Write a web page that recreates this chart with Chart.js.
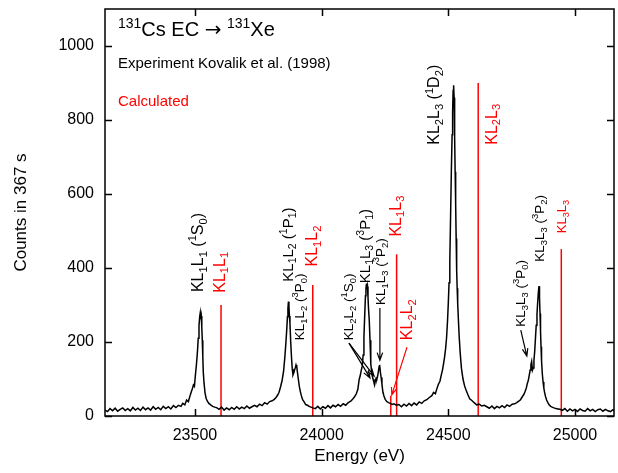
<!DOCTYPE html>
<html>
<head>
<meta charset="utf-8">
<script src="https://cdn.jsdelivr.net/npm/chart.js@4.4.0/dist/chart.umd.min.js"></script>
<style>
body { margin: 0; background: #fff; }
</style>
</head>
<body>
<canvas id="chart" width="618" height="473"></canvas>
<script>
// measured KLL spectrum (energy in eV, counts in 367 s)
const energy = [
  23145,23155,23165,23175,23185,23195,23205,23215,23225,23235,23245,23255,23265,23275,23285,23295,23305,23315,23325,23335,23345,23355,23365,23375,23385,23395,23405,23415,23425,23435,
  23445,23452,23460,23467,23474,23480,23486,23490,23494,23498,23502,23506,23510,23513,23516,23519,23521,23523,23525,23527,23529,23531,23533,23536,23540,23544,23549,23555,23562,23570,23578,23587,
  23595,23605,23615,23625,23635,23645,23655,23665,23675,23685,23695,23705,23715,
  23725,23735,23745,23755,23765,23775,23785,23795,23805,23813,23820,23826,23832,23838,23844,23850,23855,23859,23862,23865,23867,23869,23871,23873,23875,23878,23881,23884,23887,23890,23893,23896,23899,23902,23905,23908,23912,23916,23920,23925,23931,23937,23944,23951,23958,23965,
  23975,23985,23995,24005,24015,24025,24035,24045,24055,24065,24075,24085,24095,
  24105,24115,24123,24130,24137,24143,24148,24152,24156,24160,24164,24167,24170,24173,24175,24177,24179,24181,24183,24185,24188,24191,24194,24197,24200,24203,24206,24209,24212,24215,24218,24221,24224,24227,24229,24232,24235,24238,24242,24246,24251,24257,24264,24271,24278,24286,24295,
  24305,24315,24325,24335,24345,24355,24365,24375,24385,24395,24405,24415,24425,
  24435,24442,24449,24455,24461,24467,24472,24477,24481,24485,24489,24493,24497,24500,24503,24506,24509,24512,24515,24517,24519,24521,24523,24525,24527,24529,24531,24533,24535,24537,24540,24543,24547,24552,24558,24564,24570,24577,24585,24593,24602,24612,24622,24632,24642,24652,
  24662,24672,24682,24692,24702,24712,24722,24732,24742,24752,24762,
  24770,24778,24785,24792,24798,24803,24808,24812,24816,24820,24823,24826,24829,24832,24835,24838,24841,24844,24847,24850,24853,24856,24858,24860,24862,24864,24866,24868,24871,24874,24877,24880,24884,24888,24893,24898,24904,24910,24917,24925,24933,24941,
  24950,24960,24970,24980,24990,25000,25010,25020,25030,25040,25050,25060,25070,25080,25090,25100,25110,25120,25130,25140,25150,25155
];
const counts = [
  16,12,20,14,21,13,18,22,15,20,14,23,16,21,15,24,17,22,16,25,18,23,17,26,20,25,19,28,23,29,
  26,34,30,43,39,53,66,74,84,80,112,140,175,210,245,270,279,262,270,240,205,160,118,88,62,48,40,34,30,26,24,22,
  18,24,16,22,17,23,18,25,19,24,20,27,21,
  25,29,25,32,28,36,32,39,41,45,50,56,64,79,96,122,160,198,230,268,290,309,296,270,251,200,160,128,111,116,124,130,138,132,116,100,80,66,55,44,38,31,29,26,24,22,
  20,26,19,25,21,28,22,29,25,31,26,33,29,
  36,40,46,52,60,72,98,108,122,134,165,214,270,325,345,358,342,350,322,292,259,205,142,122,108,100,92,84,95,102,100,108,120,134,138,118,104,86,64,54,45,39,36,34,31,33,29,
  31,25,32,27,34,28,35,30,38,34,41,44,50,
  55,64,60,74,86,94,110,124,140,158,180,210,258,305,360,420,540,660,760,820,880,894,860,754,660,575,480,394,345,305,258,214,170,128,100,82,70,58,46,42,36,30,32,27,29,25,
  21,27,20,26,22,28,23,30,26,32,33,
  36,40,44,52,58,66,76,88,97,112,124,138,147,124,130,150,175,210,245,275,310,338,351,320,277,230,187,150,115,92,76,64,52,43,36,30,26,24,22,20,19,18,
  15,20,13,19,14,18,12,19,15,13,20,14,18,12,17,19,13,18,14,12,17,14
];

// calculated line positions and intensities
const calcNames = ['KL_1L_1', 'KL_1L_2', 'KL_1L_3', 'KL_2L_2', 'KL_2L_3', 'KL_3L_3'];
const calcEnergy = [23603, 23965, 24296, 24273, 24618, 24946];
const calcIntensity = [300, 354, 437, 55, 900, 451];

const xTicks = [23500, 24000, 24500, 25000];
const yTicks = [0, 200, 400, 600, 800, 1000];

const FONT = '"Liberation Sans", Arial, Helvetica, sans-serif';

// vertical labels: text, energy at the text baseline, counts where the text starts, size, colour
const peakLabels = [
  ['KL_1L_1 (^1S_0)', 23532, 335, 16, '#000'],
  ['KL_1L_2 (^1P_1)', 23887, 363, 15, '#000'],
  ['KL_1L_2 (^3P_0)', 23930, 205, 13.5, '#000'],
  ['KL_2L_2 (^1S_0)', 24124, 205, 13.5, '#000'],
  ['KL_1L_3 (^3P_1)', 24191, 359, 15, '#000'],
  ['KL_1L_3 (^3P_2)', 24250, 300, 13.5, '#000'],
  ['KL_2L_3 (^1D_2)', 24465, 733, 16, '#000'],
  ['KL_3L_3 (^3P_0)', 24803, 241, 13.5, '#000'],
  ['KL_3L_3 (^3P_2)', 24876, 417, 13.5, '#000'],
  [calcNames[0], 23618, 333, 16, '#ff0000'],
  [calcNames[1], 23982, 404, 16, '#ff0000'],
  [calcNames[2], 24313, 485, 16, '#ff0000'],
  [calcNames[3], 24357, 205, 16, '#ff0000'],
  [calcNames[4], 24692, 733, 16, '#ff0000'],
  [calcNames[5], 24965, 494, 13, '#ff0000']
];

// pointer arrows: from (energy, counts) to (energy, counts)
const arrows = [
  [24108, 197, 24191, 103, '#000'],
  [24108, 197, 24207, 108, '#000'],
  [24230, 292, 24230, 151, '#000'],
  [24786, 232, 24810, 162, '#000'],
  [24337, 186, 24277, 57, '#ff0000']
];

// split "KL_1L_1 (^1S_0)" style strings into normal / sub / super pieces
function parseRich(str) {
  const parts = [];
  for (let i = 0; i < str.length; i++) {
    const ch = str[i];
    if (ch === '_' || ch === '^') {
      let t;
      if (str[i + 1] === '{') {
        const end = str.indexOf('}', i);
        t = str.slice(i + 2, end);
        i = end;
      } else {
        t = str[i + 1];
        i++;
      }
      parts.push({ t: t, k: ch });
    } else {
      parts.push({ t: ch, k: '' });
    }
  }
  return parts;
}

function drawRich(ctx, str, size) {
  let x = 0;
  parseRich(str).forEach(p => {
    const fs = p.k ? size * 0.7 : size;
    const dy = p.k === '_' ? size * 0.22 : (p.k === '^' ? -size * 0.42 : 0);
    // the arrow glyph comes from DejaVu, which draws it full width
    const fam = p.t === '\u2192' ? '"DejaVu Sans", sans-serif' : FONT;
    ctx.font = fs + 'px ' + fam;
    ctx.fillText(p.t, x, dy);
    x += ctx.measureText(p.t).width;
  });
}

function arrow(ctx, x0, y0, x1, y1) {
  const ang = Math.atan2(y1 - y0, x1 - x0);
  const h = 8;
  ctx.beginPath();
  ctx.moveTo(x0, y0);
  ctx.lineTo(x1, y1);
  ctx.moveTo(x1 - h * Math.cos(ang - 0.35), y1 - h * Math.sin(ang - 0.35));
  ctx.lineTo(x1, y1);
  ctx.lineTo(x1 - h * Math.cos(ang + 0.35), y1 - h * Math.sin(ang + 0.35));
  ctx.stroke();
}

const decorations = {
  id: 'decorations',
  afterDraw(chart) {
    const { ctx, chartArea: a, scales: { x, y } } = chart;
    ctx.save();

    // frame with inward ticks on all four sides
    ctx.strokeStyle = '#000';
    ctx.lineWidth = 1.5;
    ctx.strokeRect(a.left, a.top, a.right - a.left, a.bottom - a.top);
    ctx.beginPath();
    xTicks.forEach(v => {
      const px = Math.round(x.getPixelForValue(v)) + 0.5;
      ctx.moveTo(px, a.bottom); ctx.lineTo(px, a.bottom - 7);
      ctx.moveTo(px, a.top); ctx.lineTo(px, a.top + 7);
    });
    yTicks.forEach(v => {
      const py = Math.round(y.getPixelForValue(v)) + 0.5;
      ctx.moveTo(a.left, py); ctx.lineTo(a.left + 7, py);
      ctx.moveTo(a.right, py); ctx.lineTo(a.right - 7, py);
    });
    ctx.stroke();

    // vertical peak labels
    ctx.textBaseline = 'alphabetic';
    ctx.textAlign = 'left';
    peakLabels.forEach(([txt, e, c, size, col]) => {
      ctx.save();
      ctx.fillStyle = col;
      ctx.translate(x.getPixelForValue(e), y.getPixelForValue(c));
      ctx.rotate(-Math.PI / 2);
      drawRich(ctx, txt, size);
      ctx.restore();
    });

    ctx.lineWidth = 1.2;
    arrows.forEach(([e0, c0, e1, c1, col]) => {
      ctx.strokeStyle = col;
      arrow(ctx, x.getPixelForValue(e0), y.getPixelForValue(c0),
                 x.getPixelForValue(e1), y.getPixelForValue(c1));
    });

    // header texts
    ctx.fillStyle = '#000';
    ctx.save();
    ctx.translate(a.left + 13, a.top + 27);
    drawRich(ctx, '^{131}Cs EC \u2192 ^{131}Xe', 20);
    ctx.restore();
    ctx.font = '15px ' + FONT;
    ctx.fillText('Experiment Kovalik et al. (1998)', a.left + 13, a.top + 59);
    ctx.fillStyle = '#ff0000';
    ctx.font = '15px ' + FONT;
    ctx.fillText('Calculated', a.left + 13, a.top + 97);

    ctx.restore();
  }
};

const datasets = [{
  label: 'Experiment',
  data: energy.map((e, i) => ({ x: e, y: counts[i] })),
  showLine: true,
  borderColor: '#000',
  borderWidth: 1.5,
  pointRadius: 0,
  tension: 0
}];
calcEnergy.forEach((e, i) => {
  datasets.push({
    label: calcNames[i],
    data: [{ x: e, y: 0 }, { x: e, y: calcIntensity[i] }],
    showLine: true,
    borderColor: '#ff0000',
    borderWidth: 1.5,
    pointRadius: 0
  });
});

Chart.defaults.font.family = FONT;
Chart.defaults.color = '#000';

new Chart(document.getElementById('chart').getContext('2d'), {
  type: 'scatter',
  data: { datasets: datasets },
  options: {
    responsive: false,
    animation: false,
    devicePixelRatio: 1,
    layout: { padding: { top: 9, right: 4, left: 0, bottom: 0 } },
    plugins: { legend: { display: false }, tooltip: { enabled: false } },
    scales: {
      x: {
        type: 'linear',
        min: 23145,
        max: 25154,
        grid: { display: false, drawTicks: false },
        border: { display: false },
        afterBuildTicks: s => { s.ticks = xTicks.map(v => ({ value: v })); },
        afterFit: s => { s.height = 57; s.paddingLeft = 0; s.paddingRight = 0; },
        ticks: { font: { size: 16 }, color: '#000', padding: 10, maxRotation: 0, callback: v => String(v) },
        title: { display: true, text: 'Energy (eV)', font: { size: 17 }, color: '#000', padding: { top: 0, bottom: 6 } }
      },
      y: {
        min: 0,
        max: 1100,
        grid: { display: false, drawTicks: false },
        border: { display: false },
        afterBuildTicks: s => { s.ticks = yTicks.map(v => ({ value: v })); },
        afterFit: s => { s.width = 105; s.paddingTop = 0; s.paddingBottom = 0; },
        ticks: { font: { size: 16 }, color: '#000', padding: 11, callback: v => String(v) },
        title: { display: true, text: 'Counts in 367 s', font: { size: 17 }, color: '#000', padding: { top: 11, bottom: 0 } }
      }
    }
  },
  plugins: [decorations]
});
</script>
</body>
</html>
